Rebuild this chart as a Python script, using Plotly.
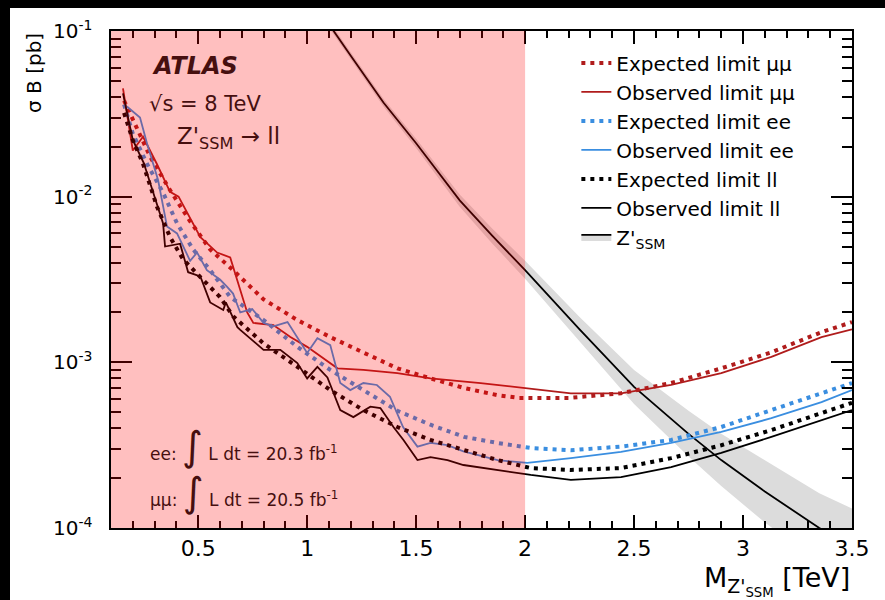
import plotly.graph_objects as go

# ---------------- data ----------------
mm_exp_mass = [0.16, 0.28, 0.37, 0.46, 0.555, 0.66, 0.80, 0.955, 1.106, 1.258, 1.414, 1.566, 1.72, 1.87, 1.97, 2.2, 2.44, 2.67, 2.9, 3.13, 3.36, 3.5]
mm_exp_val = [0.038, 0.0174, 0.011, 0.0072, 0.0048, 0.0036, 0.0024, 0.0018, 0.00142, 0.00114, 0.00092, 0.0008, 0.0007, 0.000635, 0.00061, 0.00061, 0.00065, 0.00075, 0.00092, 0.00115, 0.00152, 0.00175]

mm_obs_mass = [0.155, 0.2, 0.247, 0.31, 0.371, 0.41, 0.51, 0.587, 0.647, 0.693, 0.725, 0.753, 0.845, 0.923, 1.0, 1.139, 1.258, 1.414, 1.566, 1.796, 2.01, 2.21, 2.44, 2.67, 2.9, 3.13, 3.36, 3.5]
mm_obs_val = [0.045, 0.019, 0.023, 0.0158, 0.0107, 0.0100, 0.0057, 0.0046, 0.0043, 0.00275, 0.0020, 0.00173, 0.00168, 0.00142, 0.00124, 0.00092, 0.0009, 0.00086, 0.0008, 0.00075, 0.0007, 0.00065, 0.00065, 0.00073, 0.00086, 0.00108, 0.00142, 0.00158]

ee_exp_mass = [0.16, 0.2, 0.265, 0.34, 0.403, 0.477, 0.555, 0.647, 0.80, 0.955, 1.106, 1.258, 1.414, 1.566, 1.72, 1.874, 2.026, 2.21, 2.44, 2.67, 2.9, 3.13, 3.36, 3.5]
ee_exp_val = [0.036, 0.024, 0.0158, 0.0105, 0.0069, 0.0048, 0.0036, 0.00248, 0.0018, 0.00124, 0.0009, 0.00068, 0.00051, 0.00042, 0.000355, 0.000326, 0.000304, 0.000295, 0.00031, 0.00034, 0.000407, 0.000515, 0.00065, 0.00075]

ee_obs_mass = [0.173, 0.233, 0.265, 0.316, 0.357, 0.403, 0.463, 0.495, 0.54, 0.60, 0.633, 0.66, 0.693, 0.748, 0.80, 0.845, 0.91, 1.0, 1.047, 1.106, 1.152, 1.198, 1.258, 1.32, 1.38, 1.44, 1.506, 1.566, 1.644, 1.717, 1.874, 2.01, 2.21, 2.44, 2.67, 2.9, 3.13, 3.36, 3.5]
ee_obs_val = [0.035, 0.030, 0.021, 0.0126, 0.0066, 0.0060, 0.0041, 0.0046, 0.0036, 0.00316, 0.00285, 0.0026, 0.0020, 0.0021, 0.00173, 0.00165, 0.00175, 0.00114, 0.0014, 0.00127, 0.00075, 0.00068, 0.00075, 0.00073, 0.00062, 0.000407, 0.00031, 0.000326, 0.000316, 0.00029, 0.000257, 0.000247, 0.000264, 0.000288, 0.000326, 0.00038, 0.00046, 0.000575, 0.00068]

ll_exp_mass = [0.16, 0.2, 0.247, 0.311, 0.371, 0.43, 0.51, 0.60, 0.66, 0.80, 0.955, 1.106, 1.258, 1.414, 1.566, 1.72, 1.874, 2.026, 2.21, 2.44, 2.67, 2.9, 3.13, 3.36, 3.5]
ll_exp_val = [0.032, 0.022, 0.0158, 0.0087, 0.0057, 0.0042, 0.00327, 0.00248, 0.0019, 0.0013, 0.00094, 0.00068, 0.000515, 0.000407, 0.00034, 0.000295, 0.000257, 0.00023, 0.000224, 0.00023, 0.000264, 0.000316, 0.00039, 0.000494, 0.00057]

ll_obs_mass = [0.155, 0.2, 0.25, 0.30, 0.339, 0.348, 0.417, 0.454, 0.51, 0.555, 0.615, 0.627, 0.68, 0.693, 0.80, 0.877, 0.955, 1.0, 1.047, 1.093, 1.152, 1.212, 1.29, 1.336, 1.396, 1.442, 1.506, 1.566, 1.644, 1.717, 1.874, 2.026, 2.21, 2.44, 2.67, 2.9, 3.13, 3.36, 3.5]
ll_obs_val = [0.042, 0.022, 0.016, 0.010, 0.0069, 0.0050, 0.0052, 0.0035, 0.0033, 0.0023, 0.00207, 0.0023, 0.00163, 0.00157, 0.00119, 0.00119, 0.00099, 0.0008, 0.00094, 0.00081, 0.000515, 0.000467, 0.00054, 0.00053, 0.000407, 0.00034, 0.000257, 0.000268, 0.000257, 0.00024, 0.000224, 0.000209, 0.000195, 0.000203, 0.000233, 0.000284, 0.000355, 0.00045, 0.000515]

zp_mass = [1.0, 1.12, 1.2, 1.35, 1.5, 1.7, 1.85, 2.0, 2.25, 2.5, 2.75, 2.9, 3.1, 3.35, 3.5]
zp_val = [0.17, 0.1, 0.071, 0.037, 0.021, 0.0095, 0.0058, 0.0036, 0.00158, 0.00071, 0.00037, 0.000257, 0.000166, 0.0001, 0.000076]
zp_lo = [0.163, 0.0955, 0.0675, 0.035, 0.0197, 0.0087, 0.0052, 0.0032, 0.00133, 0.00056, 0.00027, 0.000179, 0.000108, 0.0000617, 0.000044]
zp_hi = [0.178, 0.105, 0.0745, 0.039, 0.0224, 0.0103, 0.0064, 0.0041, 0.00188, 0.0009, 0.00051, 0.00037, 0.000255, 0.000162, 0.000131]

excluded_upto = 2.0

NB = "\u00a0"
y_tick_vals = [1e-4, 1e-3, 1e-2, 1e-1]
y_tick_text = ["10<sup>-4</sup>" + NB * 2, "10<sup>-3</sup>" + NB * 2, "10<sup>-2</sup>" + NB * 2, "10<sup>-1</sup>" + NB * 2]
x_tick_vals = [0.5, 1, 1.5, 2, 2.5, 3, 3.5]
x_tick_text = ["0.5", "1", "1.5", "2", "2.5", "3", "3.5"]

# ---------------- style ----------------
RED = "#b01c1c"
BLUE = "#3a8ee0"
BLACK = "#000000"
FONT = "DejaVu Sans"
DOT = "4px,5px"
TINT = "rgb(70,15,15)"
X_RANGE = [0.1, 3.5]
Y_RANGE_LOG = [-4, -1]

fig = go.Figure()

# Z'SSM theory band + line
fig.add_trace(go.Scatter(x=zp_mass, y=zp_hi, mode="lines", line=dict(width=0, color="#dcdcdc"),
                         showlegend=False, hoverinfo="skip"))
fig.add_trace(go.Scatter(x=zp_mass, y=zp_val, mode="lines", line=dict(width=1.8, color=BLACK),
                         fill="tonexty", fillcolor="#dcdcdc", name="Z'<sub>SSM</sub>",
                         legendrank=7))
fig.add_trace(go.Scatter(x=zp_mass, y=zp_lo, mode="lines", line=dict(width=0, color="#dcdcdc"),
                         fill="tonexty", fillcolor="#dcdcdc", showlegend=False, hoverinfo="skip"))

series = [
    ("Expected limit μμ", mm_exp_mass, mm_exp_val, RED, True, 1),
    ("Observed limit μμ", mm_obs_mass, mm_obs_val, RED, False, 2),
    ("Expected limit ee", ee_exp_mass, ee_exp_val, BLUE, True, 3),
    ("Observed limit ee", ee_obs_mass, ee_obs_val, BLUE, False, 4),
    ("Expected limit ll", ll_exp_mass, ll_exp_val, BLACK, True, 5),
    ("Observed limit ll", ll_obs_mass, ll_obs_val, BLACK, False, 6),
]
for name, xs, ys, col, dotted, rank in series:
    if dotted:
        ln = dict(color=col, width=4, dash=DOT)
    else:
        ln = dict(color=col, width=1.8)
    fig.add_trace(go.Scatter(x=xs, y=ys, mode="lines", line=ln, name=name, legendrank=rank))

# ---------------- layout ----------------
fig.update_layout(
    width=885, height=600,
    margin=dict(l=111, r=33, t=31, b=72),
    paper_bgcolor="white", plot_bgcolor="white",
    font=dict(family=FONT, color="black"),
    legend=dict(x=0.628, y=0.975, xanchor="left", yanchor="top",
                bgcolor="rgba(0,0,0,0)", font=dict(size=20, family=FONT),
                traceorder="normal", itemwidth=30, tracegroupgap=0),
    xaxis=dict(range=X_RANGE, showgrid=False, zeroline=False,
               showline=True, linecolor="black", linewidth=1.8, mirror="ticks",
               ticks="inside", ticklen=13, tickwidth=2, tickcolor="black",
               tickmode="array", tickvals=x_tick_vals, ticktext=x_tick_text,
               tickfont=dict(size=22, family=FONT),
               minor=dict(ticks="inside", ticklen=7, tickwidth=1.5, tickcolor="black",
                          dtick=0.1, tick0=0.1, showgrid=False)),
    yaxis=dict(type="log", range=Y_RANGE_LOG, showgrid=False, zeroline=False,
               showline=True, linecolor="black", linewidth=1.8, mirror="ticks",
               ticks="inside", ticklen=21, tickwidth=2, tickcolor="black",
               tickmode="array", tickvals=y_tick_vals, ticktext=y_tick_text,
               tickfont=dict(size=20, family=FONT),
               minor=dict(ticks="inside", ticklen=10, tickwidth=1.5, tickcolor="black",
                          dtick="D1", showgrid=False)),
)

# excluded region overlay (drawn above everything in plot)
fig.add_shape(type="rect", xref="x", yref="paper", x0=X_RANGE[0], x1=excluded_upto, y0=0, y1=1,
              fillcolor="rgba(255,0,0,0.25)", line=dict(width=0), layer="above")

# black frame strips of the original picture
fig.add_shape(type="rect", xref="paper", yref="paper", x0=-0.16, x1=-0.1363, y0=-0.2, y1=1.1,
              fillcolor="black", line=dict(width=0), layer="above")
fig.add_shape(type="rect", xref="paper", yref="paper", x0=-0.16, x1=1.1, y0=1.0463, y1=1.1,
              fillcolor="black", line=dict(width=0), layer="above")

ann = [
    dict(x=0.053, y=0.9296, text="<b><i>ATLAS</i></b>", font=dict(size=24, color=TINT)),
    dict(x=0.0486, y=0.853, text="√s = 8 TeV", font=dict(size=21, color=TINT)),
    dict(x=0.0864, y=0.785, text="Z'<sub>SSM</sub> → ll", font=dict(size=23, color=TINT)),
    dict(x=0.05, y=0.165, text="ee: <span style='font-size:40px'>∫</span> L dt = 20.3 fb<sup>-1</sup>", font=dict(size=17, color=TINT)),
    dict(x=0.05, y=0.072, text="μμ: <span style='font-size:40px'>∫</span> L dt = 20.5 fb<sup>-1</sup>", font=dict(size=17, color=TINT)),
]
for a in ann:
    fig.add_annotation(xref="paper", yref="paper", xanchor="left", yanchor="middle",
                       showarrow=False, font_family=FONT, **a)

fig.add_annotation(xref="paper", yref="paper", x=-0.104, y=0.9155, text="σ B [pb]",
                   textangle=-90, showarrow=False, xanchor="center", yanchor="middle",
                   font=dict(size=20, family=FONT, color="black"))
fig.add_annotation(xref="paper", yref="paper", x=1.0, y=-0.107,
                   text="M<sub>Z'<sub>SSM</sub></sub> [TeV]",
                   showarrow=False, xanchor="right", yanchor="middle",
                   font=dict(size=27, family=FONT, color="black"))

fig.write_html("out.html")
